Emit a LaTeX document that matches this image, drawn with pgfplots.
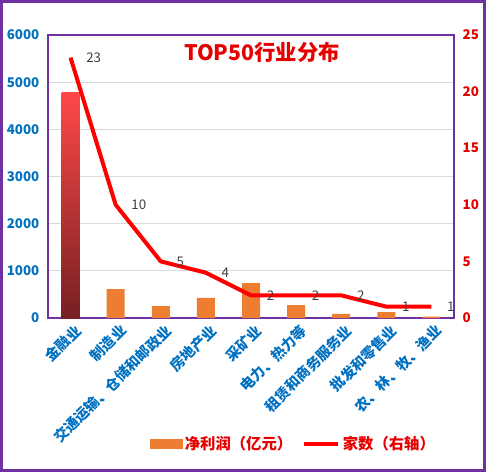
\documentclass[border=0pt]{standalone}
\usepackage{fontspec}
\setmainfont{Noto Sans CJK SC}
\usepackage{pgfplots}
\pgfplotsset{compat=1.18}
\definecolor{framepurple}{RGB}{112,48,160}
\definecolor{barorange}{RGB}{237,125,49}
\definecolor{tickblue}{RGB}{0,112,192}
\definecolor{redtxt}{RGB}{230,0,0}
\definecolor{gradtop}{RGB}{255,72,72}
\definecolor{gradbot}{RGB}{118,32,34}
\definecolor{lblgray}{RGB}{64,64,64}
\begin{document}
\begin{tikzpicture}
  % 1px = 0.75pt, picture 486x472 px
  \useasboundingbox (0,0) rectangle (364.5pt,354pt);
  \draw[framepurple, line width=2.25pt] (1.1pt,1.1pt) rectangle (363.4pt,352.9pt);

  \begin{axis}[
    at={(36pt,115.5pt)}, anchor=south west,
    scale only axis, width=304.5pt, height=212.25pt,
    xmin=-0.5, xmax=8.5, ymin=0, ymax=6000,
    ytick={0,1000,...,6000},
    xtick={0,...,8},
    xticklabels={金融业,制造业,交通运输、仓储和邮政业,房地产业,采矿业,电力、热力等,租赁和商务服务业,批发和零售业,农、林、牧、渔业},
    major tick length=0pt,
    ymajorgrids, grid style={black!15, line width=0.6pt},
    axis line style={framepurple, line width=1.1pt},
    scaled y ticks=false,
    /pgf/number format/assume math mode=true,
    /pgf/number format/set thousands separator={},
    yticklabel style={text=tickblue, font=\fontsize{10}{12}\selectfont\bfseries, xshift=-3pt},
    xticklabel style={rotate=45, anchor=north east, text=tickblue, font=\fontsize{10.8}{12}\selectfont\bfseries, inner sep=1pt, yshift=-3pt},
  ]
    \addplot[ybar, bar width=13.5pt, bar shift=0pt, draw=none, fill=barorange]
      coordinates {(1,610) (2,250) (3,425) (4,740) (5,275) (6,85) (7,127) (8,30)};
    \addplot[ybar, bar width=13.5pt, bar shift=0pt, draw=none, top color=gradtop, bottom color=gradbot]
      coordinates {(0,4790)};
    \node[text=redtxt, font=\fontsize{16}{18}\selectfont\bfseries] at (rel axis cs:0.527,0.94) {TOP50行业分布};
  \end{axis}

  \begin{axis}[
    at={(36pt,115.5pt)}, anchor=south west,
    scale only axis, width=304.5pt, height=212.25pt,
    xmin=-0.5, xmax=8.5, ymin=0, ymax=25,
    axis x line=none, axis y line*=right,
    ytick={0,5,...,25},
    major tick length=0pt,
    axis line style={framepurple, line width=1.1pt},
    /pgf/number format/assume math mode=true,
    yticklabel style={text=redtxt, font=\fontsize{10}{12}\selectfont\bfseries, xshift=3pt},
    legend style={at={(0.605,-0.445)}, anchor=center, draw=none, fill=none,
      legend columns=2, font=\fontsize{11.5}{13}\selectfont\bfseries, text=redtxt,
      /tikz/every even column/.append style={column sep=5pt}},
  ]
    \addlegendimage{legend image code/.code={\fill[barorange] (0pt,-3.4pt) rectangle (24pt,3.4pt);}}
    \addlegendentry{净利润（亿元）}
    \addplot[red, line width=3pt, line join=round, mark=none,
      nodes near coords,
      every node near coord/.append style={anchor=west, xshift=7pt, yshift=0pt, text=lblgray, font=\fontsize{10}{12}\selectfont},
      legend image code/.code={\draw[red, line width=3pt] (0pt,0pt) -- (26pt,0pt);}]
      coordinates {(0,23) (1,10) (2,5) (3,4) (4,2) (5,2) (6,2) (7,1) (8,1)};
    \addlegendentry{家数（右轴）}
  \end{axis}
\end{tikzpicture}
\end{document}
